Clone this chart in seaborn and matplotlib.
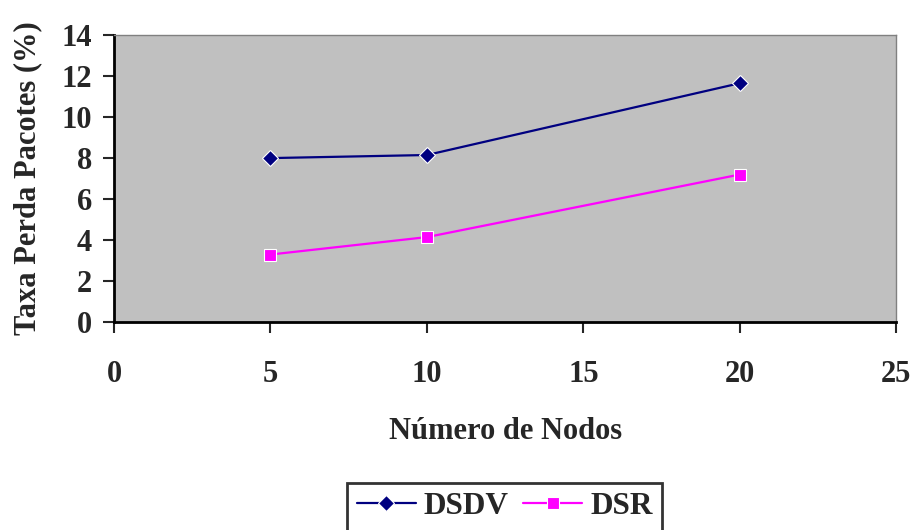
import matplotlib
matplotlib.use("Agg")
import matplotlib.pyplot as plt
import seaborn as sns
import pandas as pd

# data
nodos = [5, 10, 20]
dsdv = [8.0, 8.15, 11.65]
dsr = [3.3, 4.15, 7.2]

df = pd.DataFrame({
    "nodos": nodos * 2,
    "taxa": dsdv + dsr,
    "protocolo": ["DSDV"] * 3 + ["DSR"] * 3,
})

sns.set_style("ticks")
plt.rcParams['font.family'] = ['Liberation Serif', 'DejaVu Serif']
plt.rcParams['font.weight'] = 'bold'

fig = plt.figure(figsize=(9.16, 5.30), dpi=100)
ax = fig.add_axes([0.1245, 0.392, 0.854, 0.542])
ax.set_facecolor("#C0C0C0")

sns.lineplot(data=df, x="nodos", y="taxa", hue="protocolo", style="protocolo",
             palette={"DSDV": "#000080", "DSR": "#FF00FF"},
             markers={"DSDV": "D", "DSR": "s"}, dashes=False,
             markersize=8, linewidth=1.6, ax=ax)

for line in ax.lines:
    line.set_markeredgewidth(0.8)

ax.set_xlim(0, 25)
ax.set_ylim(0, 14)
ax.set_xticks(range(0, 26, 5))
ax.set_yticks(range(0, 15, 2))
ax.tick_params(axis="both", direction="out", length=8, width=1.5, labelsize=22)
ax.tick_params(axis="x", pad=19)
ax.tick_params(axis="y", pad=8)
for lab in ax.get_xticklabels() + ax.get_yticklabels():
    lab.set_fontweight("bold")

for side in ["left", "bottom"]:
    ax.spines[side].set_linewidth(2)
    ax.spines[side].set_color("black")
for side in ["top", "right"]:
    ax.spines[side].set_visible(True)
    ax.spines[side].set_color("#808080")
    ax.spines[side].set_linewidth(1)

ax.set_xlabel("Número de Nodos", fontsize=22, fontweight="bold", labelpad=20)
ax.set_ylabel("Taxa Perda Pacotes (%)", fontsize=22, fontweight="bold", labelpad=14)

# legend box sits a bit right of centre in the original
leg = ax.legend(loc="upper center", bbox_to_anchor=(0.551, 0.089),
                bbox_transform=fig.transFigure, ncol=2,
                fontsize=22.5, frameon=True, fancybox=False, edgecolor="black",
                handlelength=1.9, columnspacing=0.45, handletextpad=0.25,
                borderpad=0.3, borderaxespad=0)
leg.get_frame().set_linewidth(2)
for t in leg.get_texts():
    t.set_fontweight("bold")

fig.savefig("out.png", dpi=100)
